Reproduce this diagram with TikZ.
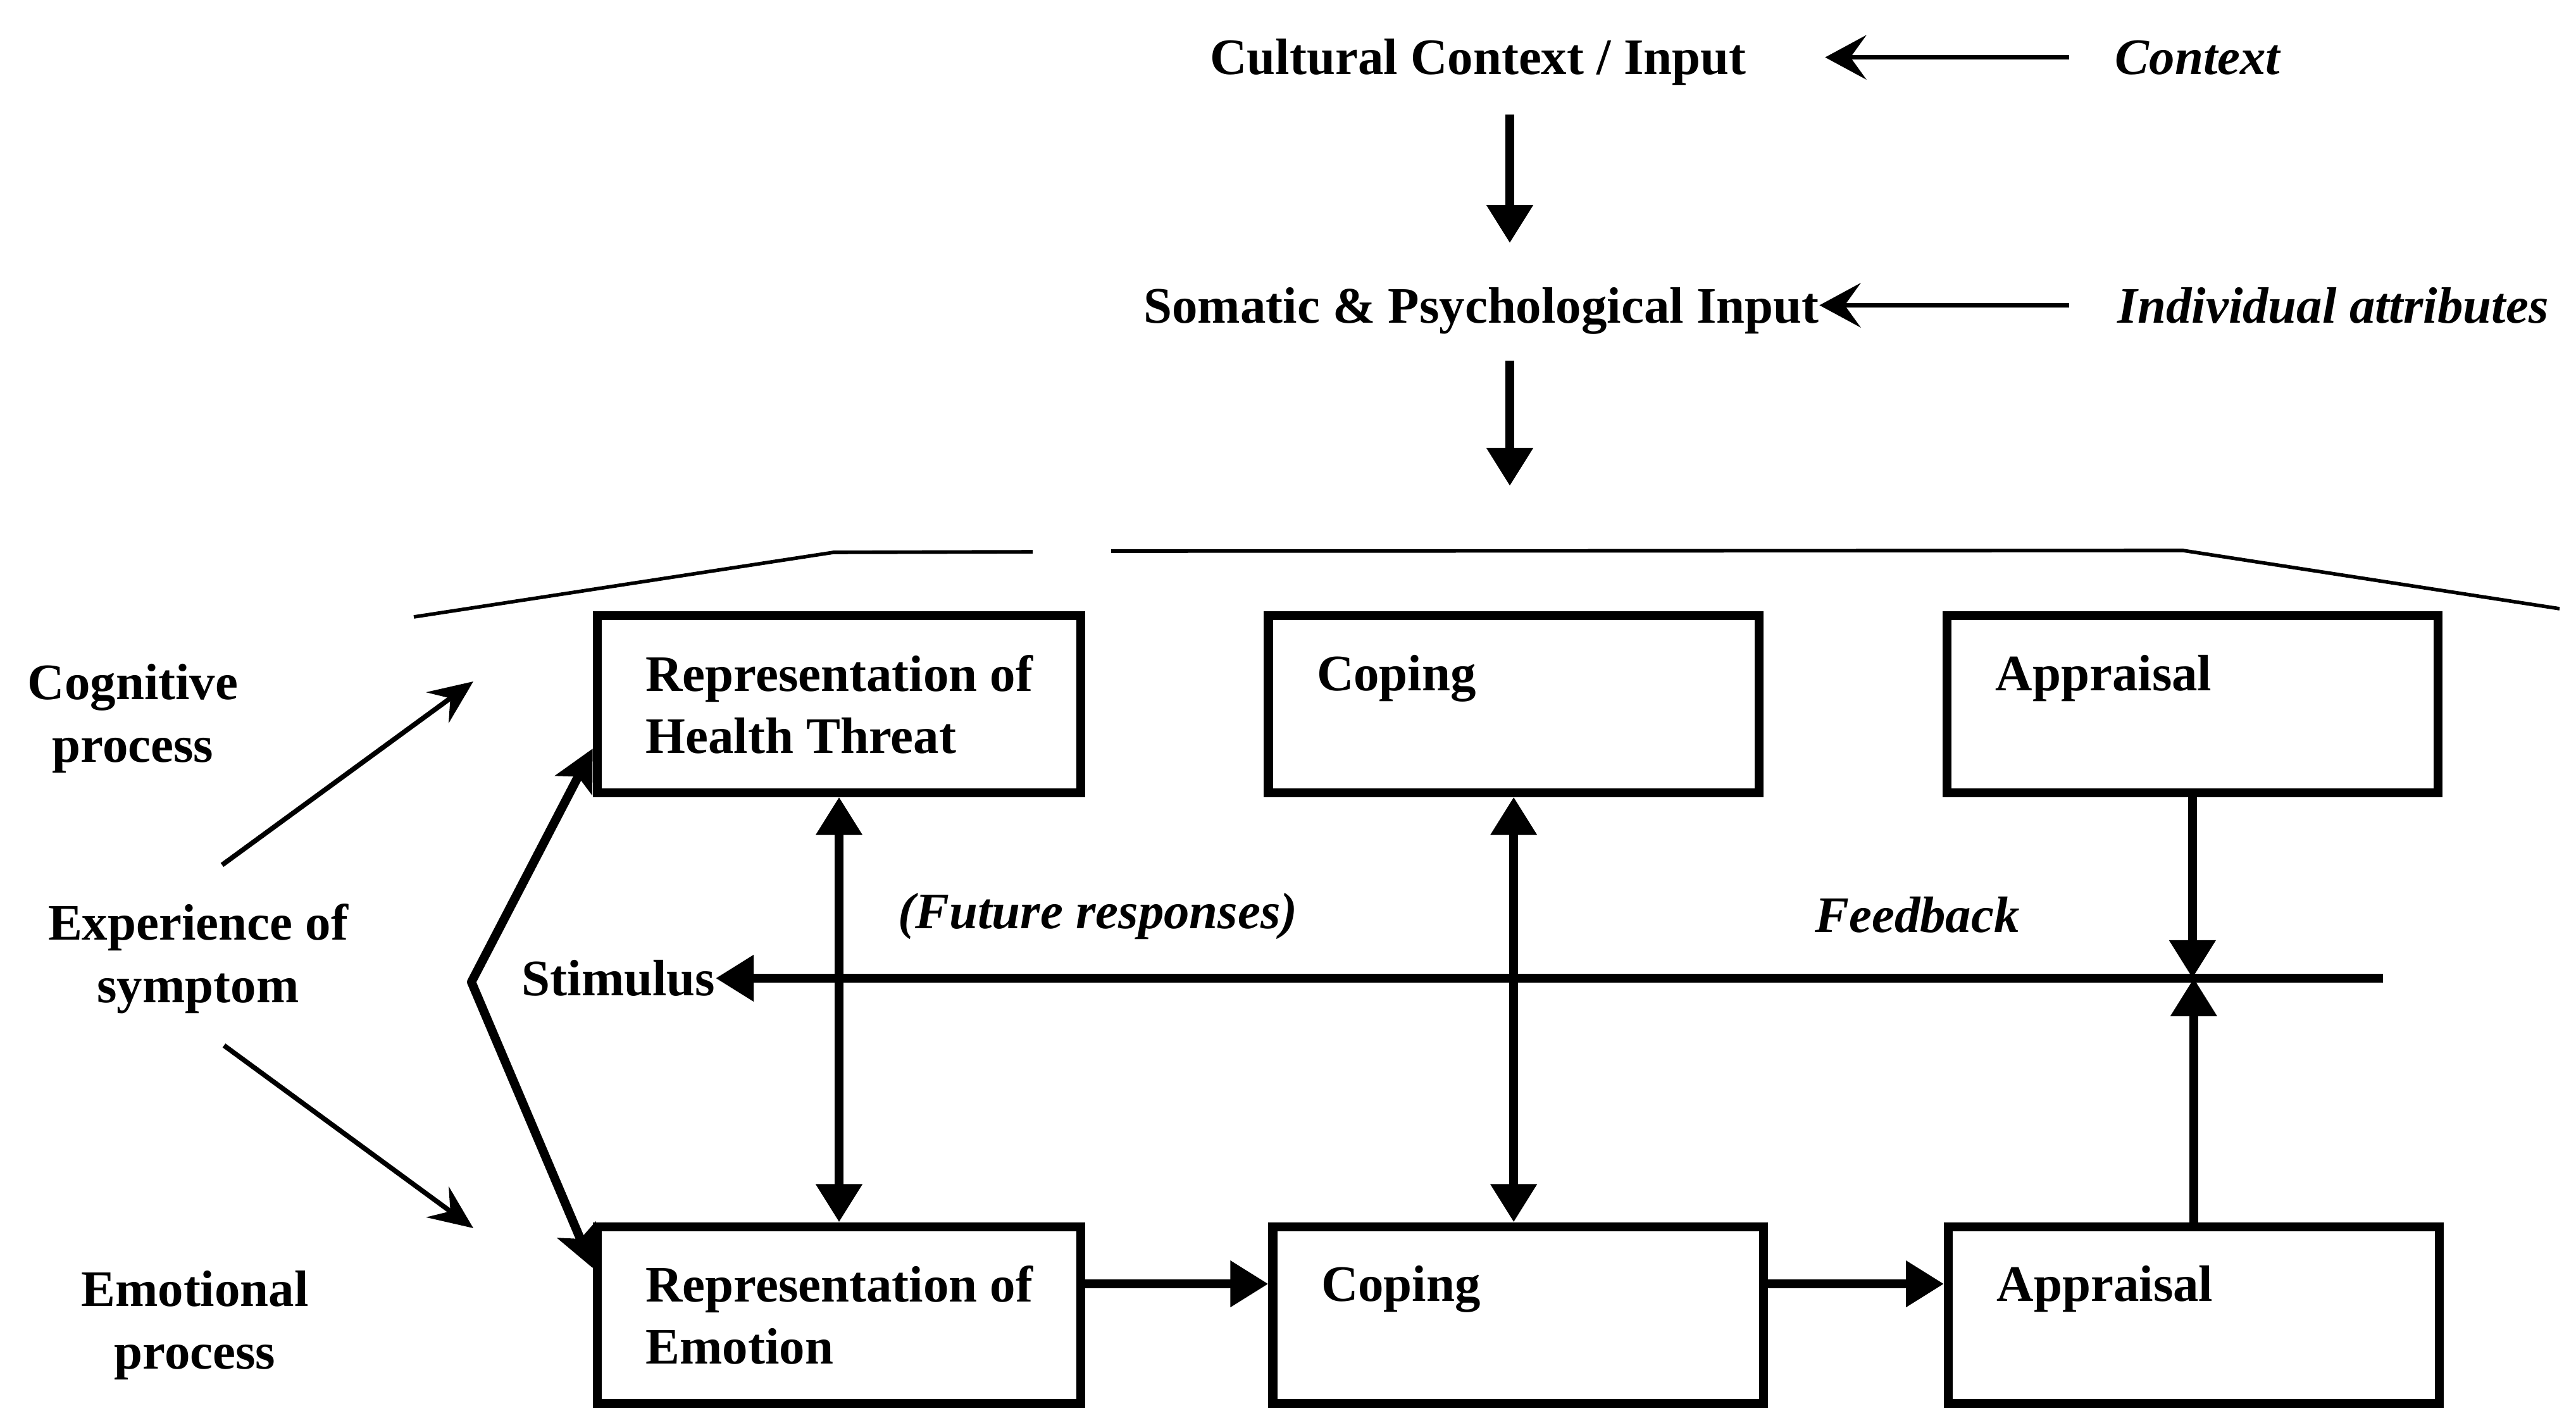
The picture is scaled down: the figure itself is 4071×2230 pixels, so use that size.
\documentclass[tikz,border=0pt]{standalone}
\usepackage{fontspec}
\setmainfont{Liberation Serif}
\usetikzlibrary{positioning,arrows.meta}

\begin{document}
\begin{tikzpicture}[
  x=0.01cm, y=-0.01cm,
  font=\bfseries\fontsize{23}{28}\selectfont,
  box/.style={draw, line width=4pt, minimum width=7.64cm, minimum height=2.79cm, inner sep=0pt},
  wide/.style={minimum width=7.75cm},
  txt/.style={inner sep=0pt, align=left},
  lbl/.style={inner sep=0pt, align=center},
  note/.style={inner sep=0pt, font=\bfseries\itshape\fontsize{23}{28}\selectfont},
  arrow/.style={line width=4pt, >={Triangle[length=6mm, width=7mm]}, ->},
  bracket/.style={line width=4pt, line join=round, {Stealth[length=6.5mm, width=6.5mm, inset=1.5mm]}-{Stealth[length=6.5mm, width=6.5mm, inset=1.5mm]}},
  inarrow/.style={line width=2.2pt, -{Stealth[length=6.5mm, width=7mm, inset=2.5mm]}},
  thinarrow/.style={line width=2.2pt, -{Stealth[length=7mm, width=6mm, inset=2.5mm]}},
  rule/.style={line width=1.6pt}
]
\useasboundingbox (0,0) rectangle (4071,2230);

\node[anchor=base, inner sep=0pt] (ctx) at (2336,117) {Cultural Context / Input};
\node[note, anchor=base west] (context) at (3342,117) {Context};
\node[anchor=base, inner sep=0pt] (som) at (2341,510) {Somatic \& Psychological Input};
\node[note, anchor=base west] (indiv) at (3346,510) {Individual attributes};
\coordinate (entry) at (2386,768);

\draw[inarrow, shorten <=0.72cm, shorten >=1.24cm] (context.west) -- (context.west -| ctx.east);
\draw[inarrow, shorten <=0.76cm] (indiv.west) -- (indiv.west -| som.east);
\draw[arrow, shorten <=0.46cm, shorten >=0.69cm] (ctx.south -| entry) -- (som.north -| entry);
\draw[arrow, shorten <=0.41cm] (som.south -| entry) -- (entry);

\draw[rule] (654,975) -- (1317,873) -- (1632,872);
\draw[rule] (1756,871) -- (3450,870) -- (4045,962);

\node[box] (rht) at (1326,1113) {};
\node[box, wide, right=2.82cm of rht] (ctop) {};
\node[box, wide, right=2.83cm of ctop] (atop) {};
\node[box, below=6.715cm of rht] (remo) {};
\node[box, wide, right=2.89cm of remo] (cbot) {};
\node[box, wide, right=2.78cm of cbot] (abot) {};

\node[txt, anchor=north west] (rhtt) at ([shift={(83,68)}]rht.north west) {Representation of\\Health Threat};
\node[txt, anchor=north west] (ctopt) at ([shift={(83,68)}]ctop.north west) {Coping};
\node[txt, anchor=north west] (atopt) at ([shift={(83,68)}]atop.north west) {Appraisal};
\node[txt, anchor=north west] (remot) at ([shift={(83,68)}]remo.north west) {Representation of\\Emotion};
\node[txt, anchor=north west] (cbott) at ([shift={(83,68)}]cbot.north west) {Coping};
\node[txt, anchor=north west] (abott) at ([shift={(83,68)}]abot.north west) {Appraisal};

\node[lbl, anchor=north] (cog) at (210,1049) {Cognitive\\process};
\node[lbl, anchor=north] (exp) at (313,1428) {Experience of\\symptom};
\node[lbl, anchor=north] (emo) at (308,2008) {Emotional\\process};
\coordinate (cogtip) at (748,1077);
\coordinate (emotip) at (748,1941);
\draw[thinarrow] ([shift={(38,-61)}]exp.north) -- (cogtip);
\draw[thinarrow] ([shift={(41,50)}]exp.south) -- (emotip);

\coordinate (bend) at (745,1552);
\draw[bracket] ([yshift=-0.7cm]rht.west) -- (bend) -- ([yshift=0.74cm]remo.west);

\draw[arrow, <->] (rht.south) -- (remo.north);
\draw[arrow, <->] (ctop.south) -- (ctop.south |- cbot.north);

\node[anchor=east, inner sep=0pt] (stim) at (1131,1546) {Stimulus};
\coordinate (fb) at (3766,1546);
\draw[arrow] (fb) -- (stim.east);
\draw[arrow] (atop.south) -- (atop.south |- fb);
\draw[arrow] (abot.north) -- (abot.north |- fb);
\node[note] (fut) at (1735,1448) {(Future responses)};
\node[note] (feed) at (3030,1446) {Feedback};

\draw[arrow] ([yshift=0.49cm]remo.east) -- ([yshift=0.49cm]remo.east -| cbot.west);
\draw[arrow] ([yshift=0.49cm]cbot.east) -- ([yshift=0.49cm]cbot.east -| abot.west);
\end{tikzpicture}
\end{document}
